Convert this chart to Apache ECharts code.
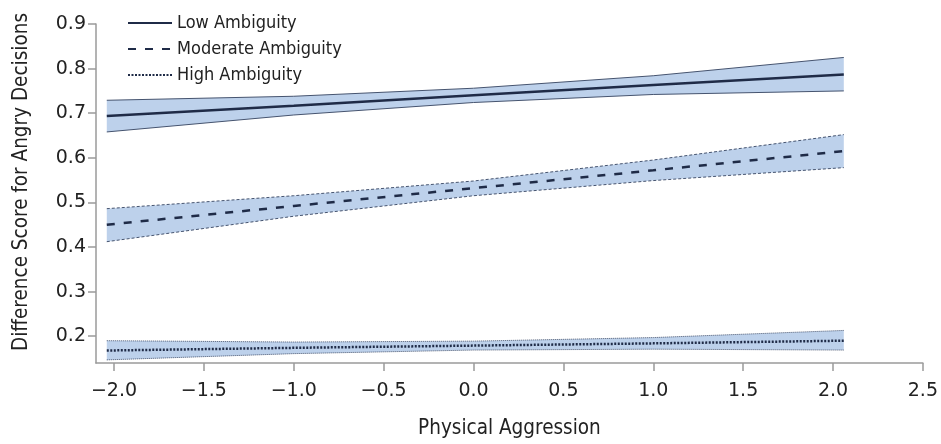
<!DOCTYPE html>
<html>
<head>
<meta charset="utf-8">
<style>
  html, body { margin: 0; padding: 0; background: #fff; }
  #chart { width: 941px; height: 444px; }
</style>
<script src="https://cdn.jsdelivr.net/npm/echarts@6/dist/echarts.min.js"></script>
</head>
<body>
<div id="chart"></div>
<script>
// Physical aggression (centred) at which predictions are shown
const aggression = [-2.04, -1.0, 0.0, 1.0, 2.06];

// Predicted difference scores with confidence bounds, by ambiguity level
const lowMean  = [0.694, 0.717, 0.740, 0.763, 0.787];
const lowUpper = [0.729, 0.738, 0.756, 0.784, 0.825];
const lowLower = [0.658, 0.696, 0.724, 0.742, 0.750];

const modMean  = [0.450, 0.492, 0.532, 0.572, 0.615];
const modUpper = [0.486, 0.515, 0.548, 0.595, 0.652];
const modLower = [0.412, 0.469, 0.515, 0.549, 0.578];

const highMean  = [0.168, 0.174, 0.179, 0.184, 0.190];
const highUpper = [0.190, 0.187, 0.189, 0.197, 0.213];
const highLower = [0.147, 0.161, 0.169, 0.171, 0.169];

const xTicks = [-2.0, -1.5, -1.0, -0.5, 0.0, 0.5, 1.0, 1.5, 2.0, 2.5];
const yTicks = [0.2, 0.3, 0.4, 0.5, 0.6, 0.7, 0.8, 0.9];

const NARROW = "'DejaVu Sans Condensed', 'Liberation Sans Narrow', sans-serif";
const WIDE = "'DejaVu Sans', sans-serif";
const LINE = '#1f2b47';
const EDGE = '#46546f';
const FILL = '#bdd1eb';
const AXIS = '#9a9a9a';

const pairs = (ys) => aggression.map((x, i) => [x, ys[i]]);

// Shaded confidence region: a polygon running along the upper bound and back along the lower bound
function bandFill(upper, lower) {
  return {
    type: 'custom', silent: true, z: 1,
    data: [[aggression[0], lower[0]]],
    encode: { x: 0, y: 1 },
    renderItem: function (params, api) {
      const top = aggression.map((x, i) => api.coord([x, upper[i]]));
      const bottom = aggression.map((x, i) => api.coord([x, lower[i]])).reverse();
      return {
        type: 'polygon',
        shape: { points: top.concat(bottom) },
        style: { fill: FILL, stroke: null }
      };
    }
  };
}

function edgeLine(ys, type) {
  return {
    type: 'line', data: pairs(ys), symbol: 'none', silent: true, z: 2,
    lineStyle: { color: EDGE, width: 1, type: type }
  };
}

function meanLine(name, ys, type) {
  return {
    name: name, type: 'line', data: pairs(ys), symbol: 'none', z: 3,
    lineStyle: { color: LINE, width: 2.5, type: type },
    itemStyle: { color: LINE }
  };
}

const chart = echarts.init(document.getElementById('chart'));
chart.setOption({
  animation: false,
  backgroundColor: '#fff',
  textStyle: { fontFamily: NARROW },
  grid: { left: 96, right: 16, top: 24, bottom: 76 },
  legend: {
    data: ['Low Ambiguity', 'Moderate Ambiguity', 'High Ambiguity'],
    orient: 'vertical', left: 122, top: 9, itemGap: 8,
    itemWidth: 44, itemHeight: 18,
    itemStyle: { opacity: 0 },
    textStyle: { fontFamily: NARROW, fontSize: 18, color: '#222' }
  },
  xAxis: {
    type: 'value', min: -2.1, max: 2.5,
    name: 'Physical Aggression', nameLocation: 'middle', nameGap: 55,
    nameTextStyle: { fontFamily: NARROW, fontSize: 20.5, color: '#222' },
    axisLine: { show: true, onZero: false, lineStyle: { color: AXIS, width: 1.5 } },
    axisTick: { show: true, length: 8, lineStyle: { color: AXIS, width: 1.5 }, customValues: xTicks },
    axisLabel: {
      fontFamily: WIDE, fontSize: 19, color: '#222', margin: 19, customValues: xTicks,
      formatter: (v) => (v < 0 ? '\u2212' : '') + Math.abs(v).toFixed(1)
    },
    splitLine: { show: false }
  },
  yAxis: {
    type: 'value', min: 0.14, max: 0.9,
    axisLine: { show: true, onZero: false, lineStyle: { color: AXIS, width: 1.5 } },
    axisTick: { show: true, length: 8, lineStyle: { color: AXIS, width: 1.5 }, customValues: yTicks },
    axisLabel: {
      fontFamily: WIDE, fontSize: 19, color: '#222', margin: 10, customValues: yTicks,
      formatter: (v) => v.toFixed(1)
    },
    splitLine: { show: false }
  },
  graphic: [{
    type: 'text', x: 22, y: 182, rotation: Math.PI / 2,
    style: {
      text: 'Difference Score for Angry Decisions',
      fontFamily: NARROW, fontSize: 20.5, fill: '#222',
      align: 'center', verticalAlign: 'middle'
    }
  }],
  series: [
    bandFill(lowUpper, lowLower),
    bandFill(modUpper, modLower),
    bandFill(highUpper, highLower),
    edgeLine(lowUpper, 'solid'), edgeLine(lowLower, 'solid'),
    edgeLine(modUpper, [3, 2]), edgeLine(modLower, [3, 2]),
    edgeLine(highUpper, [1, 1]), edgeLine(highLower, [1, 1]),
    meanLine('Low Ambiguity', lowMean, 'solid'),
    meanLine('Moderate Ambiguity', modMean, [8, 9]),
    meanLine('High Ambiguity', highMean, [2, 1.5])
  ]
});
</script>
</body>
</html>
